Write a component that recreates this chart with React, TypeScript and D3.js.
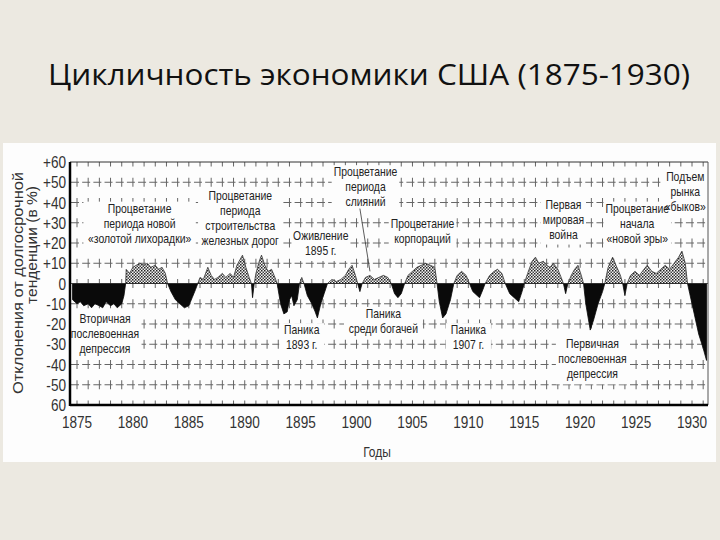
import React from 'react';
import * as d3 from 'd3';

// ---- data ----
const years = [
  1874.6, 1875.0, 1875.3, 1875.6, 1876.0, 1876.3, 1876.6, 1877.0, 1877.3, 1877.6, 1878.0, 1878.3, 1878.6, 1879.0, 1879.2, 1879.35,
  1879.4, 1879.7, 1880.0, 1880.3, 1880.6, 1881.0, 1881.3, 1881.6, 1882.0, 1882.3, 1882.6, 1882.9, 1883.1,
  1883.4, 1883.8, 1884.2, 1884.6, 1885.0, 1885.3, 1885.6, 1885.8,
  1886.0, 1886.3, 1886.7, 1887.0, 1887.3, 1887.6, 1888.0, 1888.3, 1888.7, 1889.0, 1889.3, 1889.6, 1889.8, 1890.1, 1890.4, 1890.6,
  1890.7, 1890.85, 1891.0, 1891.3, 1891.5, 1891.8, 1892.1, 1892.4, 1892.7, 1892.9,
  1893.2, 1893.5, 1893.8, 1894.0, 1894.2, 1894.4, 1894.7, 1894.9, 1895.1, 1895.3,
  1895.6, 1896.0, 1896.3, 1896.5, 1896.8, 1897.1, 1897.4,
  1897.8, 1898.2, 1898.6, 1899.0, 1899.3, 1899.6, 1899.9, 1900.1, 1900.3, 1900.5,
  1900.8, 1901.2, 1901.6, 1902.0, 1902.4, 1902.8, 1903.1, 1903.4, 1903.7, 1904.0, 1904.3,
  1904.6, 1905.0, 1905.4, 1905.8, 1906.2, 1906.6, 1907.0, 1907.2,
  1907.4, 1907.7, 1908.0, 1908.4, 1908.7, 1909.0, 1909.4, 1909.8, 1910.1,
  1910.4, 1910.8, 1911.0, 1911.3, 1911.5, 1911.9, 1912.3, 1912.6, 1913.0, 1913.3,
  1913.7, 1914.1, 1914.5, 1914.8, 1915.0, 1915.3, 1915.7, 1916.0, 1916.3, 1916.7, 1917.0, 1917.3, 1917.6,
  1918.0, 1918.3, 1918.5, 1918.7, 1918.9, 1919.2, 1919.5, 1919.8, 1920.1, 1920.3,
  1920.5, 1920.9, 1921.2, 1921.6, 1922.0, 1922.2, 1922.5, 1922.9, 1923.2, 1923.6, 1923.8,
  1924.0, 1924.2, 1924.5, 1924.9, 1925.3, 1925.7, 1926.0, 1926.4, 1926.8, 1927.2, 1927.6,
  1928.0, 1928.4, 1928.8, 1929.1, 1929.4, 1929.6, 1929.8, 1930.2, 1930.6, 1931.0, 1931.3,
];
const values = [
  -8, -10, -9, -11, -10, -12, -10, -11, -12, -9, -11, -10, -12, -10, -6, 0,
  7, 5, 8, 9, 10, 9, 10, 8, 9, 7, 8, 5, 0,
  -4, -8, -10, -12, -11, -7, -3, 0,
  3, 2, 8, 4, 2, 3, 5, 3, 5, 3, 9, 12, 14, 8, 3, 0,
  -7, 0, 5, 11, 14, 9, 6, 7, 3, 0,
  -10, -15, -14, -8, -6, -11, -8, 0, 3, 0,
  -6, -10, -14, -17, -10, -5, 0,
  2, 1, 2, 4, 7, 9, 4, 0, -4, 0,
  3, 4, 2, 3, 4, 3, 0, -5, -7, -5, 0,
  4, 6, 8, 9, 10, 9, 8, 0,
  -9, -17, -15, -8, 0, 4, 6, 4, 0,
  -4, -6, -7, -3, 0, 4, 6, 7, 5, 0,
  -5, -7, -9, -4, 0, 5, 11, 13, 10, 11, 9, 8, 10,
  7, 3, 0, -5, 0, 4, 7, 9, 4, 0,
  -10, -23, -18, -10, -4, 0, 8, 13, 9, 4, 0,
  -6, 0, 4, 6, 4, 7, 9, 6, 5, 7, 9,
  7, 10, 13, 16, 10, 0, -5, -15, -25, -32, -38,
];

const yTicks = [60, 50, 40, 30, 20, 10, 0, -10, -20, -30, -40, -50, -60];
const yTickLabels = ['+60', '+50', '+40', '+30', '+20', '+10', '0', '-10', '-20', '-30', '-40', '-50', '60'];
const xTicks = [1875, 1880, 1885, 1890, 1895, 1900, 1905, 1910, 1915, 1920, 1925, 1930];
const gridYears = [1875, 1876, 1877, 1878, 1879, 1880, 1881, 1882, 1883, 1884, 1885, 1886, 1887, 1888, 1889, 1890, 1891, 1892, 1893, 1894, 1895, 1896, 1897, 1898, 1899, 1900, 1901, 1902, 1903, 1904, 1905, 1906, 1907, 1908, 1909, 1910, 1911, 1912, 1913, 1914, 1915, 1916, 1917, 1918, 1919, 1920, 1921, 1922, 1923, 1924, 1925, 1926, 1927, 1928, 1929, 1930, 1931];
const gridValues = [50, 40, 30, 20, 10, -10, -20, -30, -40, -50];

const annoLines = [
  ['Процветание', 'периода новой', '«золотой лихорадки»'],
  ['Процветание', 'периода', 'строительства', 'железных дорог'],
  ['Процветание', 'периода', 'слияний'],
  ['Оживление', '1895 г.'],
  ['Процветание', 'корпораций'],
  ['Первая', 'мировая', 'война'],
  ['Процветание', 'начала', '«новой эры»'],
  ['Подъем', 'рынка', '«быков»'],
  ['Вторичная', 'послевоенная', 'депрессия'],
  ['Паника', '1893 г.'],
  ['Паника', 'среди богачей'],
  ['Паника', '1907 г.'],
  ['Первичная', 'послевоенная', 'депрессия'],
];
const annoYear = [1880.6, 1889.6, 1900.8, 1896.8, 1905.9, 1918.5, 1925.1, 1929.4, 1877.5, 1895.1, 1902.4, 1910.0, 1921.1];
const annoValue = [35, 41, 53, 21.5, 27.5, 37, 35, 50.5, -19.5, -25, -17, -25, -32];

const title = 'Цикличность экономики США (1875-1930)';
const yTitle = ['Отклонения от долгосрочной', 'тенденции (в %)'];
const xTitle = 'Годы';

const SANS = "'Liberation Sans', Arial, sans-serif";
const SX = 0.8;

export default function App() {
  const W = 720, H = 540;
  const left = 70, right = 708, top = 162, bottom = 405;
  const x = d3.scaleLinear().domain([1875, 1930]).range([77, 692]);
  const y = d3.scaleLinear().domain([-60, 60]).range([bottom, top]);
  const data = years.map((yr, i) => ({ yr, v: values[i] }));
  const area = d3.area<{ yr: number; v: number }>()
    .x(d => x(d.yr)).y0(y(0)).y1(d => y(d.v));
  const line = d3.line<{ yr: number; v: number }>().x(d => x(d.yr)).y(d => y(d.v));
  const y0 = y(0);
  const lineH = 15;

  return (
    <svg width={W} height={H} style={{ position: 'absolute', left: 0, top: 0 }}
      xmlns="http://www.w3.org/2000/svg">
      <defs>
        <pattern id="dots" width="3" height="3" patternUnits="userSpaceOnUse">
          <rect width="3" height="3" fill="#f4f4f4" />
          <rect x="0" y="0" width="1.5" height="1.5" fill="#222" />
          <rect x="1.5" y="1.5" width="1.5" height="1.5" fill="#444" />
        </pattern>
        <clipPath id="above"><rect x={left} y={top} width={right - left} height={y0 - top} /></clipPath>
        <clipPath id="below"><rect x={left} y={y0} width={right - left} height={bottom - y0} /></clipPath>
      </defs>
      <rect width={W} height={H} fill="#ece9e1" />
      <text x={48} y={85} fontFamily="'Open Sans', 'Liberation Sans', sans-serif" fontSize={29}
        fill="#111" textLength={642} lengthAdjust="spacingAndGlyphs">{title}</text>
      <rect x={3} y={143} width={713} height={319} fill="#fdfdfd" />

      {/* grid */}
      <g stroke="#666" strokeWidth={1} fill="none">
        {gridValues.map(v => (
          <line key={'h' + v} x1={left} x2={right} y1={y(v)} y2={y(v)} strokeDasharray="8 3.18" strokeDashoffset={-1} />
        ))}
        {gridYears.map(yr => (
          <line key={'v' + yr} x1={x(yr)} x2={x(yr)} y1={top} y2={bottom} strokeDasharray="9 11.25" strokeDashoffset={4.5} />
        ))}
      </g>

      {/* annotation masks */}
      {annoLines.map((lines, i) => {
        const w = d3.max(lines, s => s.length)! * 5.6 + 6;
        const cx = x(annoYear[i]);
        const ty = y(annoValue[i]);
        return <rect key={'m' + i} x={cx - w / 2} y={ty - 11} width={w} height={lines.length * lineH + 2} fill="#fdfdfd" />;
      })}

      {/* series */}
      <path d={area(data)!} fill="url(#dots)" clipPath="url(#above)" />
      <path d={line(data)!} fill="none" stroke="#333" strokeWidth={0.8} clipPath="url(#above)" />
      <path d={area(data)!} fill="#0a0a0a" stroke="#0a0a0a" strokeWidth={0.8} clipPath="url(#below)" />
      <line x1={left} x2={right} y1={y0} y2={y0} stroke="#222" strokeWidth={0.8} />

      {/* frame */}
      <line x1={left} x2={right} y1={top} y2={top} stroke="#333" strokeWidth={1} />
      <line x1={right} x2={right} y1={top} y2={bottom} stroke="#555" strokeWidth={1} />
      <line x1={left} x2={left} y1={top} y2={bottom + 1} stroke="#000" strokeWidth={2.5} />
      <line x1={left} x2={right} y1={bottom} y2={bottom} stroke="#000" strokeWidth={2.5} />

      {/* pointer for слияний */}
      <line x1={x(1900.3)} y1={y(37)} x2={x(1901.2)} y2={y(6)} stroke="#333" strokeWidth={0.8} />

      {/* annotations */}
      <g fontFamily={SANS} fontSize={13} fill="#222" textAnchor="middle">
        {annoLines.map((lines, i) => (
          <g key={'a' + i} transform={`translate(${x(annoYear[i])},${y(annoValue[i])}) scale(${SX},1)`}>
            <text x={0} y={0}>
              {lines.map((s, j) => (
                <tspan key={j} x={0} dy={j === 0 ? 0 : lineH}>{s}</tspan>
              ))}
            </text>
          </g>
        ))}
      </g>

      {/* y axis labels */}
      <g fontFamily={SANS} fontSize={17} fill="#333" textAnchor="end">
        {yTicks.map((v, i) => (
          <text key={'yt' + v} transform={`translate(66,${y(v) + 6}) scale(${SX},1)`}>{yTickLabels[i]}</text>
        ))}
      </g>
      {/* x axis labels */}
      <g fontFamily={SANS} fontSize={17} fill="#333" textAnchor="middle">
        {xTicks.map(t => (
          <text key={'xt' + t} transform={`translate(${x(t)},428) scale(${SX},1)`}>{t}</text>
        ))}
      </g>
      <text transform={`translate(377,457) scale(${SX},1)`} fontFamily={SANS} fontSize={15} fill="#333" textAnchor="middle">{xTitle}</text>
      <text transform="translate(23,283) rotate(-90)" fontFamily={SANS} fontSize={15} fill="#333" textAnchor="middle"
        textLength={222} lengthAdjust="spacingAndGlyphs">{yTitle[0]}</text>
      <text transform="translate(37,245) rotate(-90)" fontFamily={SANS} fontSize={15} fill="#333" textAnchor="middle"
        textLength={118} lengthAdjust="spacingAndGlyphs">{yTitle[1]}</text>
    </svg>
  );
}
